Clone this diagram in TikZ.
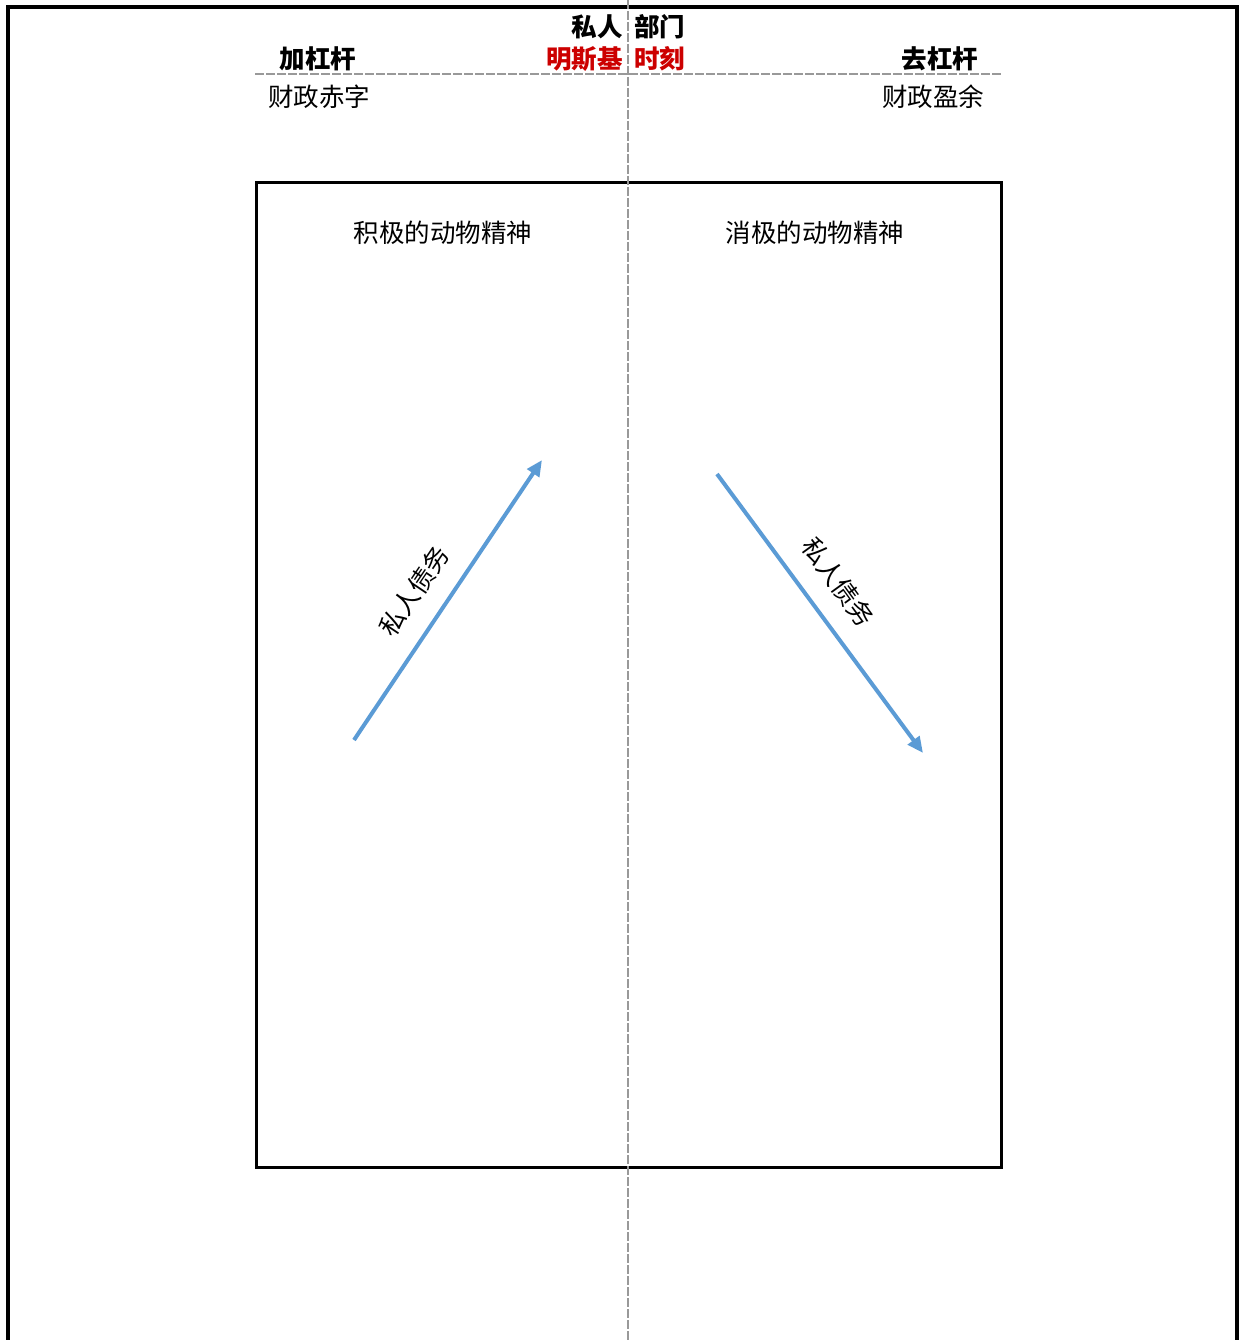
\documentclass[tikz,border=0pt]{standalone}
\usepackage{fontspec}
\newfontfamily\cjk{Noto Sans CJK SC}
\usetikzlibrary{arrows.meta}
\definecolor{arrowblue}{RGB}{91,155,213}
\definecolor{minred}{RGB}{204,0,0}
\begin{document}
\begin{tikzpicture}[x=1pt,y=-1pt,
  lbl/.style={font=\cjk\fontsize{25.5}{28}\selectfont, inner sep=0pt},
  blbl/.style={font=\cjk\bfseries\fontsize{25.5}{28}\selectfont, inner sep=0pt},
  guide/.style={draw=gray!80, line width=2.5pt, dash pattern=on 9pt off 2pt},
  debt/.style={draw=arrowblue, line width=4pt, -{Triangle[length=16pt,width=14pt]}}]
\useasboundingbox (0,0) rectangle (1239,1340);
% outer frame
\coordinate (fbl) at (8,1340);
\coordinate (ftl) at (8,7);
\coordinate (ftr) at (1237,7);
\coordinate (fbr) at (1237,1340);
\draw[line width=3.5pt] (fbl) -- (ftl) -- (ftr) -- (fbr);
% inner box
\node[draw, line width=3pt, minimum width=745pt, minimum height=984pt, inner sep=0pt] (box) at (628.5,675) {};
% guides
\coordinate (vt) at (628,0);
\coordinate (vb) at (628,1340);
\draw[guide] (vt) -- (vb);
\coordinate (hl) at (255,74);
\coordinate (hr) at (1002,74);
\draw[guide] (hl) -- (hr);
% labels
\node[blbl, anchor=east] (siren) at (623,27) {私人};
\node[blbl, anchor=west] (bumen) at (634,27) {部门};
\node[blbl, anchor=east, text=minred] (minsky) at (623,59) {明斯基};
\node[blbl, anchor=west, text=minred] (shike) at (634,59) {时刻};
\node[blbl] (jia) at (318,59) {加杠杆};
\node[blbl] (qu) at (940,59) {去杠杆};
\node[lbl] (chizi) at (319,97) {财政赤字};
\node[lbl] (yingyu) at (933,97) {财政盈余};
\node[lbl] (jiji) at (443,233) {积极的动物精神};
\node[lbl] (xiaoji) at (815,233) {消极的动物精神};
% arrows
\coordinate (a1s) at (354,740);
\coordinate (a1e) at (542,460);
\draw[debt] (a1s) -- (a1e);
\coordinate (a2s) at (717,474);
\coordinate (a2e) at (923,753);
\draw[debt] (a2s) -- (a2e);
\node[lbl, rotate=56] (d1) at (414,591) {私人债务};
\node[lbl, rotate=-54] (d2) at (838,582) {私人债务};
\end{tikzpicture}
\end{document}
